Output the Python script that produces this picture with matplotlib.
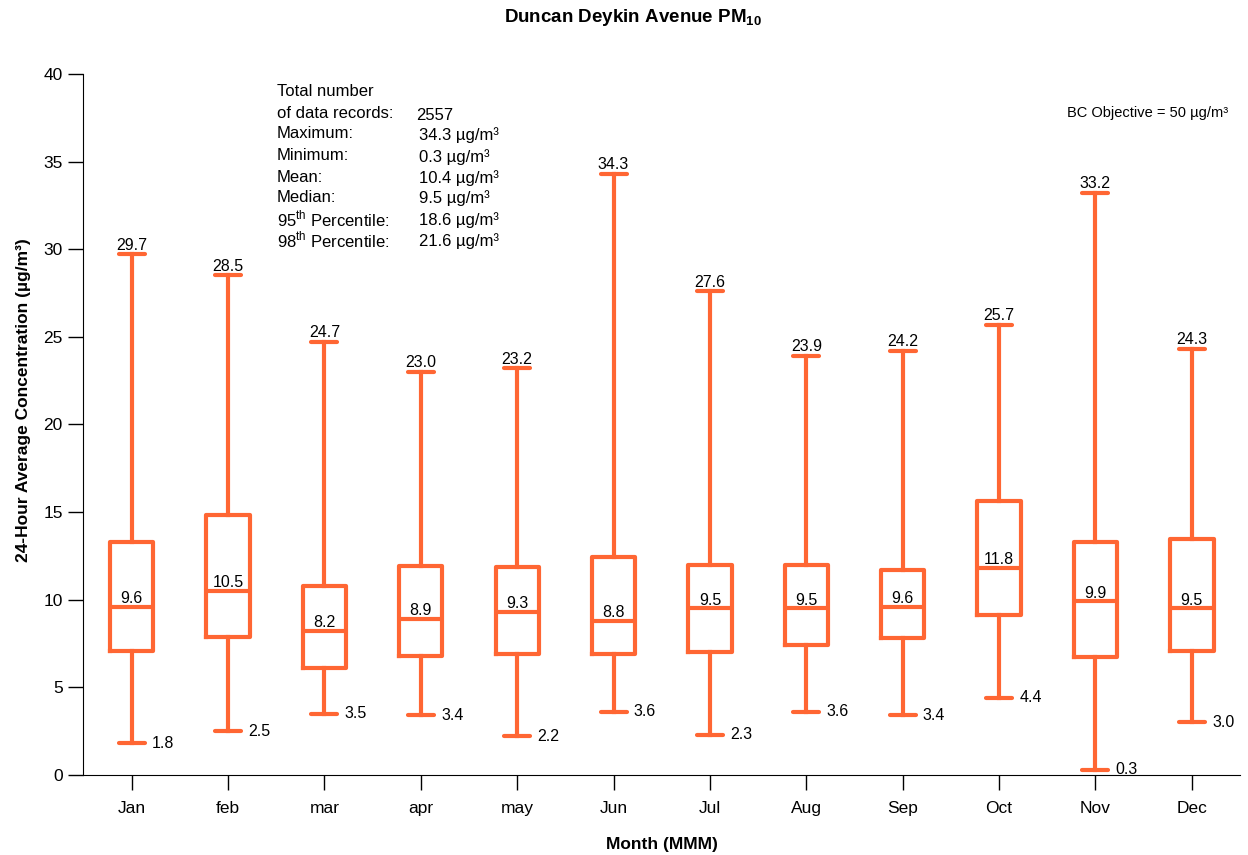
import matplotlib.pyplot as plt
import numpy as np

plt.rcParams['font.family'] = ['Liberation Sans', 'DejaVu Sans']
plt.rcParams['mathtext.fontset'] = 'custom'
plt.rcParams['mathtext.rm'] = 'Liberation Sans'
plt.rcParams['mathtext.bf'] = 'Liberation Sans:bold'

# monthly box stats
months = ['Jan', 'feb', 'mar', 'apr', 'may', 'Jun', 'Jul', 'Aug', 'Sep', 'Oct', 'Nov', 'Dec']
maxima = [29.7, 28.5, 24.7, 23.0, 23.2, 34.3, 27.6, 23.9, 24.2, 25.7, 33.2, 24.3]
q3 = [13.3, 14.85, 10.8, 11.95, 11.85, 12.45, 12.0, 12.0, 11.7, 15.65, 13.3, 13.45]
medians = [9.6, 10.5, 8.2, 8.9, 9.3, 8.8, 9.5, 9.5, 9.6, 11.8, 9.9, 9.5]
q1 = [7.1, 7.9, 6.1, 6.8, 6.9, 6.9, 7.0, 7.4, 7.8, 9.1, 6.75, 7.1]
minima = [1.8, 2.5, 3.5, 3.4, 2.2, 3.6, 2.3, 3.6, 3.4, 4.4, 0.3, 3.0]

stat_names = ['Maximum:', 'Minimum:', 'Mean:', 'Median:',
              r'95$^{\rm th}$ Percentile:', r'98$^{\rm th}$ Percentile:']
stat_values = [34.3, 0.3, 10.4, 9.5, 18.6, 21.6]
n_records = 2557

orange = '#FF6633'

fig = plt.figure(figsize=(12.48, 8.55), dpi=100)
ax = fig.add_axes([0.0669, 0.0936, 0.9267, 0.8199])

pos = np.arange(1, len(months) + 1)
stats = []
for i in range(len(months)):
    stats.append({'whislo': minima[i], 'q1': q1[i], 'med': medians[i],
                  'q3': q3[i], 'whishi': maxima[i], 'fliers': []})

lw = 3.0
ax.bxp(stats, positions=pos, widths=0.45, capwidths=0.27, showfliers=False,
       boxprops=dict(color=orange, linewidth=lw),
       whiskerprops=dict(color=orange, linewidth=lw),
       capprops=dict(color=orange, linewidth=lw, solid_capstyle='round'),
       medianprops=dict(color=orange, linewidth=lw))

for i, p in enumerate(pos):
    ax.text(p, maxima[i] + 0.1, f'{maxima[i]:.1f}', ha='center', va='bottom', fontsize=11.5)
    ax.text(p, medians[i] + 0.05, f'{medians[i]:.1f}', ha='center', va='bottom', fontsize=11.5)
    ax.text(p + 0.21, minima[i], f'{minima[i]:.1f}', ha='left', va='center', fontsize=11.5)

ax.set_xlim(0.5, 12.5)
ax.set_ylim(0, 40)
ax.set_yticks(range(0, 41, 5))
ax.set_xticks(pos)
ax.set_xticklabels(months)
ax.spines['top'].set_visible(False)
ax.spines['right'].set_visible(False)
ax.tick_params(axis='y', length=11, width=1, labelsize=12.5, pad=4)
ax.tick_params(axis='x', length=11, width=1, labelsize=12.5, pad=8)

ax.set_ylabel('24-Hour Average Concentration (µg/m³)', fontsize=12.5, fontweight='bold')
ax.yaxis.set_label_coords(-0.045, 0.535)
ax.set_xlabel('Month (MMM)', fontsize=12.5, fontweight='bold', labelpad=15)

fig.text(633 / 1248, 1 - 18 / 855, r'Duncan Deykin Avenue PM$_{\mathbf{10}}$',
         ha='center', va='center', fontsize=13.5, fontweight='bold')

# summary stats block
x0, x1 = 277 / 1248, 419 / 1248
fig.text(x0, 1 - 91 / 855, 'Total number', fontsize=12, va='center')
fig.text(x0, 1 - 113 / 855, 'of data records:', fontsize=12, va='center')
fig.text(416 / 1248, 1 - 116 / 855, str(n_records), fontsize=12, va='center')
ys = [134, 156, 177, 197, 219, 240]
for name, val, y in zip(stat_names, stat_values, ys):
    fig.text(x0, 1 - y / 855, name, fontsize=12, va='center')
    fig.text(x1, 1 - (y + 1) / 855, f'{val:.1f} µg/m³', fontsize=12, va='center')

fig.text(1228 / 1248, 1 - 113 / 855, 'BC Objective = 50 µg/m³', fontsize=10.5,
         ha='right', va='center')

fig.savefig('out.png', dpi=100)
